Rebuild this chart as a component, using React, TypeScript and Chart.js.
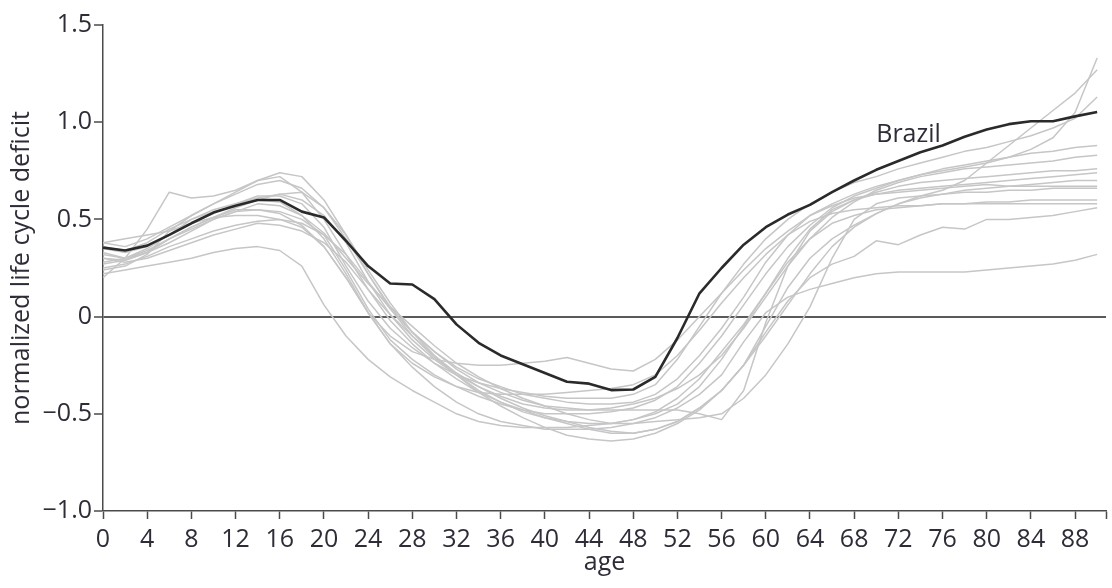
import React, { useEffect, useRef } from "react";
import { Chart, registerables } from "chart.js";

Chart.register(...registerables);

const ages = [0, 2, 4, 6, 8, 10, 12, 14, 16, 18, 20, 22, 24, 26, 28, 30, 32, 34, 36, 38, 40, 42, 44, 46, 48, 50, 52, 54, 56, 58, 60, 62, 64, 66, 68, 70, 72, 74, 76, 78, 80, 82, 84, 86, 88, 90];

const xTickValues = [0, 4, 8, 12, 16, 20, 24, 28, 32, 36, 40, 44, 48, 52, 56, 60, 64, 68, 72, 76, 80, 84, 88];
const yTickValues = [-1, -0.5, 0, 0.5, 1, 1.5];
const yTickLabels = ["\u22121.0", "\u22120.5", "0", "0.5", "1.0", "1.5"];

const brazil = [0.355, 0.34, 0.365, 0.42, 0.48, 0.535, 0.57, 0.6, 0.6, 0.54, 0.51, 0.39, 0.26, 0.17, 0.165, 0.09, -0.04, -0.135, -0.2, -0.245, -0.29, -0.335, -0.345, -0.378, -0.375, -0.31, -0.11, 0.12, 0.25, 0.37, 0.46, 0.525, 0.575, 0.64, 0.7, 0.755, 0.8, 0.845, 0.88, 0.925, 0.962, 0.99, 1.005, 1.005, 1.03, 1.052];

const country1 = [0.3, 0.29, 0.33, 0.4, 0.45, 0.5, 0.54, 0.58, 0.57, 0.52, 0.43, 0.3, 0.17, 0.05, -0.05, -0.15, -0.24, -0.31, -0.37, -0.42, -0.46, -0.5, -0.53, -0.55, -0.55, -0.54, -0.53, -0.52, -0.5, -0.42, -0.3, -0.14, 0.05, 0.3, 0.5, 0.58, 0.61, 0.62, 0.63, 0.64, 0.64, 0.65, 0.65, 0.66, 0.66, 0.66];
const country2 = [0.22, 0.24, 0.26, 0.28, 0.3, 0.33, 0.35, 0.36, 0.34, 0.26, 0.06, -0.1, -0.22, -0.31, -0.38, -0.44, -0.5, -0.54, -0.56, -0.57, -0.57, -0.57, -0.56, -0.55, -0.53, -0.5, -0.45, -0.36, -0.22, -0.05, 0.12, 0.28, 0.4, 0.48, 0.52, 0.55, 0.56, 0.57, 0.58, 0.58, 0.59, 0.59, 0.6, 0.6, 0.6, 0.6];
const country3 = [0.38, 0.36, 0.4, 0.46, 0.52, 0.58, 0.64, 0.7, 0.74, 0.72, 0.6, 0.42, 0.22, 0.05, -0.08, -0.18, -0.26, -0.32, -0.36, -0.4, -0.42, -0.44, -0.45, -0.45, -0.44, -0.4, -0.32, -0.2, -0.06, 0.1, 0.28, 0.42, 0.52, 0.58, 0.63, 0.67, 0.7, 0.73, 0.75, 0.77, 0.79, 0.82, 0.86, 0.92, 1.05, 1.33];
const country4 = [0.2, 0.3, 0.45, 0.64, 0.61, 0.62, 0.65, 0.7, 0.72, 0.64, 0.5, 0.32, 0.14, -0.02, -0.14, -0.24, -0.32, -0.39, -0.44, -0.48, -0.52, -0.55, -0.58, -0.6, -0.6, -0.58, -0.54, -0.47, -0.38, -0.25, -0.05, 0.15, 0.3, 0.4, 0.47, 0.53, 0.58, 0.62, 0.65, 0.7, 0.79, 0.88, 0.97, 1.06, 1.15, 1.27];
const country5 = [0.35, 0.33, 0.36, 0.42, 0.48, 0.53, 0.58, 0.62, 0.62, 0.58, 0.46, 0.26, 0.08, -0.06, -0.16, -0.24, -0.3, -0.34, -0.37, -0.39, -0.41, -0.42, -0.42, -0.42, -0.4, -0.35, -0.22, -0.05, 0.12, 0.27, 0.4, 0.5, 0.58, 0.64, 0.69, 0.72, 0.76, 0.79, 0.82, 0.85, 0.87, 0.9, 0.93, 0.97, 1.02, 1.13];
const country6 = [0.33, 0.3, 0.34, 0.4, 0.46, 0.51, 0.55, 0.55, 0.54, 0.5, 0.42, 0.24, 0.04, -0.12, -0.22, -0.3, -0.36, -0.41, -0.45, -0.48, -0.5, -0.5, -0.5, -0.49, -0.47, -0.43, -0.36, -0.24, -0.1, 0.06, 0.22, 0.36, 0.47, 0.56, 0.62, 0.66, 0.7, 0.73, 0.76, 0.78, 0.8, 0.82, 0.84, 0.85, 0.87, 0.88];
const country7 = [0.28, 0.3, 0.35, 0.42, 0.5, 0.55, 0.58, 0.61, 0.63, 0.6, 0.52, 0.38, 0.18, 0.01, -0.12, -0.22, -0.3, -0.36, -0.41, -0.45, -0.47, -0.48, -0.48, -0.47, -0.45, -0.42, -0.37, -0.3, -0.2, -0.06, 0.1, 0.26, 0.4, 0.51, 0.59, 0.65, 0.69, 0.72, 0.74, 0.76, 0.77, 0.78, 0.79, 0.8, 0.82, 0.83];
const country8 = [0.38, 0.4, 0.42, 0.44, 0.48, 0.51, 0.52, 0.52, 0.5, 0.46, 0.36, 0.2, 0.02, -0.1, -0.18, -0.22, -0.24, -0.25, -0.25, -0.24, -0.23, -0.21, -0.24, -0.27, -0.28, -0.22, -0.12, 0.0, 0.12, 0.24, 0.35, 0.44, 0.52, 0.57, 0.61, 0.63, 0.65, 0.66, 0.67, 0.68, 0.69, 0.7, 0.71, 0.72, 0.73, 0.74];
const country9 = [0.25, 0.27, 0.31, 0.36, 0.4, 0.44, 0.47, 0.49, 0.5, 0.48, 0.42, 0.32, 0.18, 0.04, -0.08, -0.18, -0.27, -0.34, -0.39, -0.43, -0.46, -0.47, -0.48, -0.48, -0.48, -0.48, -0.48, -0.5, -0.53, -0.38, -0.03, 0.26, 0.44, 0.54, 0.6, 0.64, 0.67, 0.69, 0.7, 0.71, 0.72, 0.73, 0.74, 0.75, 0.75, 0.76];
const country10 = [0.3, 0.28, 0.3, 0.34, 0.38, 0.42, 0.45, 0.48, 0.47, 0.44, 0.38, 0.28, 0.14, 0.01, -0.1, -0.2, -0.29, -0.36, -0.42, -0.47, -0.51, -0.54, -0.57, -0.59, -0.6, -0.58, -0.54, -0.47, -0.38, -0.25, -0.08, 0.08, 0.2, 0.27, 0.31, 0.39, 0.37, 0.42, 0.46, 0.45, 0.5, 0.5, 0.51, 0.52, 0.54, 0.56];
const country11 = [0.32, 0.3, 0.33, 0.38, 0.44, 0.5, 0.54, 0.55, 0.53, 0.47, 0.36, 0.2, 0.02, -0.14, -0.26, -0.36, -0.44, -0.5, -0.54, -0.56, -0.58, -0.58, -0.58, -0.57, -0.55, -0.52, -0.47, -0.4, -0.3, -0.13, 0.02, 0.1, 0.14, 0.17, 0.2, 0.22, 0.23, 0.23, 0.23, 0.23, 0.24, 0.25, 0.26, 0.27, 0.29, 0.32];
const country12 = [0.27, 0.29, 0.33, 0.4, 0.46, 0.51, 0.56, 0.6, 0.63, 0.64, 0.56, 0.42, 0.24, 0.07, -0.08, -0.2, -0.3, -0.39, -0.46, -0.52, -0.57, -0.61, -0.63, -0.64, -0.63, -0.6, -0.55, -0.48, -0.38, -0.25, -0.1, 0.06, 0.22, 0.36, 0.46, 0.53, 0.58, 0.61, 0.63, 0.65, 0.66, 0.67, 0.68, 0.69, 0.7, 0.7];
const country13 = [0.36, 0.34, 0.38, 0.45, 0.5, 0.54, 0.57, 0.6, 0.59, 0.52, 0.4, 0.22, 0.02, -0.14, -0.24, -0.31, -0.36, -0.39, -0.4, -0.4, -0.4, -0.39, -0.38, -0.37, -0.35, -0.3, -0.2, -0.07, 0.07, 0.2, 0.32, 0.42, 0.49, 0.53, 0.55, 0.56, 0.57, 0.57, 0.58, 0.58, 0.58, 0.58, 0.58, 0.58, 0.58, 0.58];
const country14 = [0.24, 0.26, 0.32, 0.44, 0.52, 0.58, 0.63, 0.68, 0.7, 0.66, 0.56, 0.4, 0.22, 0.04, -0.1, -0.21, -0.3, -0.38, -0.44, -0.49, -0.52, -0.54, -0.55, -0.55, -0.53, -0.49, -0.42, -0.32, -0.18, -0.04, 0.12, 0.3, 0.45, 0.55, 0.6, 0.63, 0.64, 0.65, 0.66, 0.67, 0.68, 0.67, 0.67, 0.67, 0.67, 0.67];

const otherCountries = [country1, country2, country3, country4, country5, country6, country7, country8, country9, country10, country11, country12, country13, country14];

const FONT = "'Open Sans', 'Noto Sans', sans-serif";
const TEXT_COLOR = "#2d2d38";
const AXIS_COLOR = "#4a4a4a";
const X_MAX = 90.8;

const toPoints = (vals: number[]) => ages.map((a, i) => ({ x: a, y: vals[i] }));

const brazilLabel = {
  id: "brazilLabel",
  afterDatasetsDraw(chart: any) {
    const { ctx, scales } = chart;
    const px = scales.x.getPixelForValue(70);
    const py = scales.y.getPixelForValue(0.9);
    ctx.save();
    ctx.font = `25px ${FONT}`;
    ctx.fillStyle = TEXT_COLOR;
    ctx.textAlign = "left";
    ctx.textBaseline = "alphabetic";
    ctx.fillText("Brazil", px, py);
    ctx.restore();
  },
};

export default function App() {
  const canvasRef = useRef<HTMLCanvasElement | null>(null);

  useEffect(() => {
    if (!canvasRef.current) return;
    const datasets: any[] = [
      {
        label: "Brazil",
        data: toPoints(brazil),
        borderColor: "#2a2a2a",
        borderWidth: 2.6,
        pointRadius: 0,
        tension: 0,
        borderJoinStyle: "round",
      },
      ...otherCountries.map((vals, i) => ({
        label: `country ${i + 1}`,
        data: toPoints(vals),
        borderColor: "#c6c6c8",
        borderWidth: 1.5,
        pointRadius: 0,
        tension: 0,
        borderJoinStyle: "round",
      })),
    ];

    const chart = new Chart(canvasRef.current, {
      type: "line",
      data: { datasets },
      options: {
        animation: false,
        responsive: true,
        maintainAspectRatio: false,
        layout: { padding: { left: 0, right: 2, top: 25, bottom: 0 } },
        plugins: { legend: { display: false }, tooltip: { enabled: false } },
        scales: {
          x: {
            type: "linear",
            min: 0,
            max: X_MAX,
            afterBuildTicks: (scale: any) => {
              scale.ticks = [...xTickValues, X_MAX].map((v) => ({ value: v }));
            },
            afterFit: (scale: any) => {
              scale.height = 77;
            },
            ticks: {
              autoSkip: false,
              maxRotation: 0,
              minRotation: 0,
              padding: 6,
              color: TEXT_COLOR,
              font: { family: FONT, size: 25 },
              callback: (v: any) => (xTickValues.includes(v) ? String(v) : ""),
            },
            grid: {
              display: true,
              drawOnChartArea: false,
              drawTicks: true,
              tickLength: 8,
              tickColor: AXIS_COLOR,
              tickWidth: 1.5,
            },
            border: { display: true, color: AXIS_COLOR, width: 1.5 },
            title: {
              display: true,
              text: "age",
              color: TEXT_COLOR,
              font: { family: FONT, size: 25 },
              padding: { top: 0, bottom: 10 },
            },
          },
          y: {
            type: "linear",
            min: -1,
            max: 1.5,
            afterBuildTicks: (scale: any) => {
              scale.ticks = yTickValues.map((v) => ({ value: v }));
            },
            afterFit: (scale: any) => {
              scale.width = 103;
            },
            ticks: {
              padding: 2,
              color: TEXT_COLOR,
              font: { family: FONT, size: 25 },
              callback: (_v: any, idx: number) => yTickLabels[idx],
            },
            grid: {
              display: true,
              drawOnChartArea: true,
              drawTicks: true,
              tickLength: 9,
              tickColor: AXIS_COLOR,
              tickWidth: 1.5,
              color: (ctx: any) => (ctx.tick && ctx.tick.value === 0 ? "#5a5a5a" : "rgba(0,0,0,0)"),
              lineWidth: (ctx: any) => (ctx.tick && ctx.tick.value === 0 ? 2 : 0),
            },
            border: { display: true, color: AXIS_COLOR, width: 1.5 },
            title: {
              display: true,
              text: "normalized life cycle deficit",
              color: TEXT_COLOR,
              font: { family: FONT, size: 25 },
              padding: { top: 7, bottom: 0 },
            },
          },
        },
      },
      plugins: [brazilLabel],
    });
    return () => chart.destroy();
  }, []);

  return (
    <div style={{ position: "absolute", left: 0, top: 0, width: 1112, height: 588, background: "#fff" }}>
      <canvas ref={canvasRef} />
    </div>
  );
}
